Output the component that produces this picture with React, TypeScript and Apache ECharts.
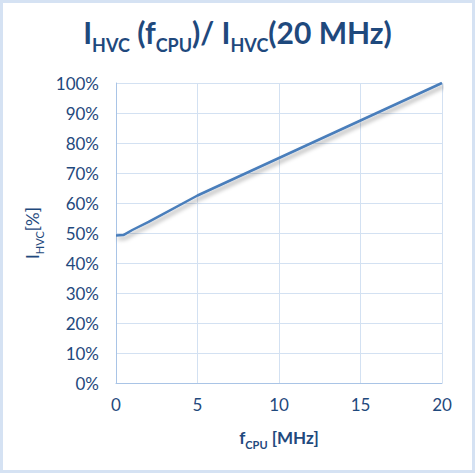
import React, { useEffect, useRef } from "react";
import * as echarts from "echarts";

const freqMHz = [0, 0.45, 1, 2, 5, 10, 15, 20];
const ratioPct = [49.2, 49.3, 51, 53.7, 62.5, 75, 87.5, 100];
const xTicks = [0, 5, 10, 15, 20];

const TEXT = "#1f497d";
const FONT = "Lato, 'Open Sans', sans-serif";

export default function App() {
  const ref = useRef<HTMLDivElement>(null);
  useEffect(() => {
    document.body.style.margin = "0";
    const chart = echarts.init(ref.current!, null, { renderer: "svg" });
    chart.setOption({
      animation: false,
      backgroundColor: "#ffffff",
      graphic: [
        {
          type: "rect",
          shape: { x: 1.5, y: 1.5, width: 472, height: 470 },
          style: { fill: "none", stroke: "#d5e2f3", lineWidth: 3 },
          silent: true,
        },
      ],
      title: {
        left: "center",
        top: 12,
        text: "{a|I}{b|HVC}{a| (f}{b|CPU}{a|)/ I}{b|HVC}{a|(20 MHz)}",
        textStyle: {
          rich: {
            a: { fontSize: 30, fontWeight: "bold", color: TEXT, fontFamily: FONT, padding: [0, 0, 7, 0], verticalAlign: "bottom" },
            b: { fontSize: 18, fontWeight: "bold", color: TEXT, fontFamily: FONT, verticalAlign: "bottom" },
          },
        },
      },
      grid: { left: 116, right: 33, top: 83, bottom: 90 },
      xAxis: {
        type: "value",
        min: 0,
        max: 20,
        interval: 5,
        name: "{a|f}{b|CPU}{a| [MHz]}",
        nameLocation: "middle",
        nameGap: 46,
        nameTextStyle: {
          rich: {
            a: { fontSize: 17, fontWeight: "bold", color: TEXT, fontFamily: FONT, padding: [0, 0, 4, 0], verticalAlign: "bottom" },
            b: { fontSize: 11, fontWeight: "bold", color: TEXT, fontFamily: FONT, verticalAlign: "bottom" },
          },
        },
        axisLine: { show: true, lineStyle: { color: "#a9c4e6", width: 1 } },
        axisTick: { show: false },
        axisLabel: {
          color: TEXT,
          fontSize: 17,
          fontFamily: FONT,
          margin: 13,
          customValues: xTicks,
        },
        splitLine: { show: true, lineStyle: { color: "#d3e1f2", width: 1 } },
      },
      yAxis: {
        type: "value",
        min: 0,
        max: 100,
        interval: 10,
        name: "{a|I}{b|HVC}{a|[%]}",
        nameLocation: "middle",
        nameGap: 45,
        nameRotate: 90,
        nameTextStyle: {
          rich: {
            a: { fontSize: 17, color: TEXT, fontFamily: FONT, padding: [0, 0, 4, 0], verticalAlign: "bottom" },
            b: { fontSize: 11, color: TEXT, fontFamily: FONT, verticalAlign: "bottom" },
          },
        },
        axisLine: { show: true, lineStyle: { color: "#a9c4e6", width: 1 } },
        axisTick: { show: false },
        axisLabel: {
          color: TEXT,
          fontSize: 17,
          fontFamily: FONT,
          margin: 17,
          formatter: "{value}%",
        },
        splitLine: { show: true, lineStyle: { color: "#d3e1f2", width: 1 } },
      },
      series: [
        {
          type: "line",
          data: freqMHz.map((f, i) => [f, ratioPct[i]]),
          showSymbol: false,
          symbol: "none",
          lineStyle: {
            color: "#4a7ebb",
            width: 2.5,
            shadowColor: "rgba(0,0,0,0.35)",
            shadowBlur: 4,
            shadowOffsetX: 2,
            shadowOffsetY: 3,
          },
        },
      ],
    });
    return () => chart.dispose();
  }, []);
  return <div ref={ref} style={{ width: 475, height: 473 }} />;
}
